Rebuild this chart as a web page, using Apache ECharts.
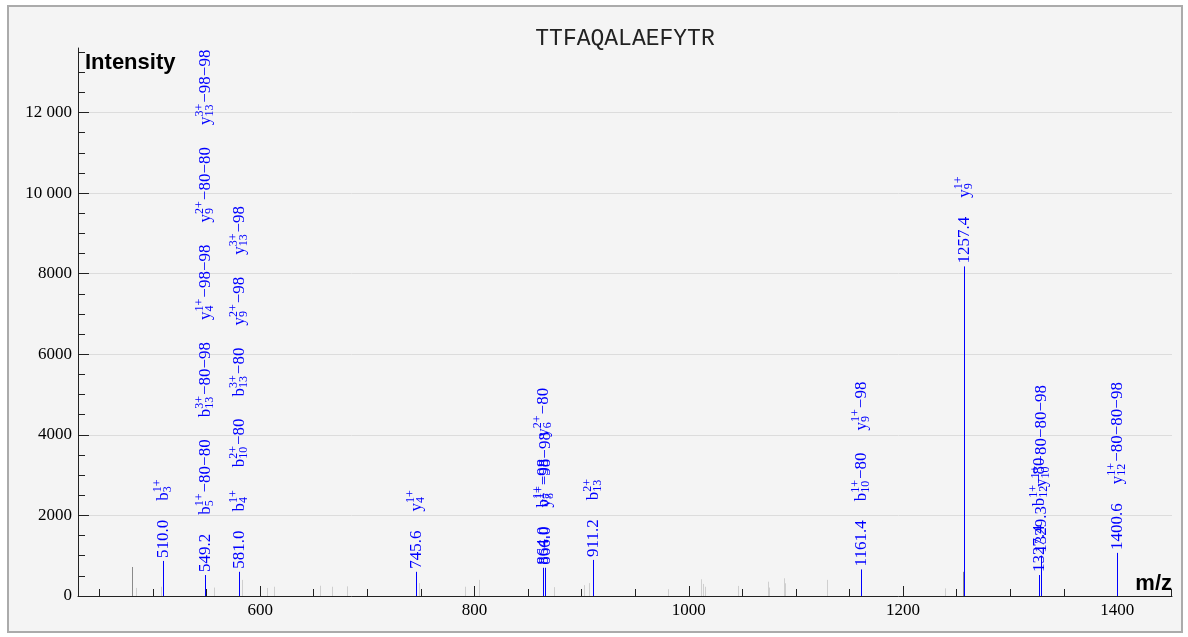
<!DOCTYPE html>
<html><head><meta charset="utf-8">
<script src="https://cdn.jsdelivr.net/npm/echarts@6.0.0/dist/echarts.min.js"></script>
<style>
html,body{margin:0;padding:0;background:#ffffff;}
#frame{position:absolute;left:7px;top:5px;width:1172px;height:624px;border:2px solid #ababab;background:#f4f4f4;}
#chart{width:1172px;height:624px;}
</style></head><body>
<div id="frame"><div id="chart"></div></div>
<script>
// ---------------- data ----------------
const TITLE = 'TTFAQALAEFYTR';
const X_NAME = 'm/z';
const Y_NAME = 'Intensity';

const X_MIN = 430, X_MAX = 1451;
const Y_MIN = 0, Y_MAX = 13600;
const X_MINOR_TICKS = [450, 500, 550, 600, 650, 700, 750, 800, 850, 900, 950, 1000, 1050, 1100, 1150, 1200, 1250, 1300, 1350, 1400, 1450];
const X_MAJOR_TICKS = [600, 800, 1000, 1200, 1400];
const Y_MINOR_TICKS = [0, 500, 1000, 1500, 2000, 2500, 3000, 3500, 4000, 4500, 5000, 5500, 6000, 6500, 7000, 7500, 8000, 8500, 9000, 9500, 10000, 10500, 11000, 11500, 12000, 12500, 13000, 13500];
const Y_MAJOR_TICKS = [0, 2000, 4000, 6000, 8000, 10000, 12000];

// annotated (blue) peaks
const ANNOT_MZ  = [510.0, 549.2, 581.0, 745.6, 864.0, 866.0, 911.2, 1161.4, 1257.4, 1327.4, 1329.3, 1400.6];
const ANNOT_INT = [870,   520,   600,   600,   700,   700,   895,   660,    8180,   520,    1000,   1070];
// ion | subscript | charge | neutral losses
const ANNOT_IONS = [
  ['b|3|1+|'],
  ['b|5|1+|−80−80', 'b|13|3+|−80−98', 'y|4|1+|−98−98', 'y|9|2+|−80−80', 'y|13|3+|−98−98'],
  ['b|4|1+|', 'b|10|2+|−80', 'b|13|3+|−80', 'y|9|2+|−98', 'y|13|3+|−98'],
  ['y|4|1+|'],
  ['b|7|1+|−98', 'y|6|2+|−80'],
  ['y|8|1+|−98−98'],
  ['b|13|2+|'],
  ['b|10|1+|−80', 'y|9|1+|−98'],
  ['y|9|1+|'],
  ['b|12|1+|−80'],
  ['y|10|1+|−80−80−98'],
  ['y|12|1+|−80−80−98']
];

// unannotated peaks
const DARK_MZ  = [481.2, 1256.3];
const DARK_INT = [720, 600];
const LIGHT_MZ  = [485, 508, 557, 583.5, 606.8, 613.4, 656, 667.5, 681.5, 749, 792, 804.6, 874.6, 903, 907, 981, 1012, 1014, 1016, 1046, 1074, 1075.3, 1089.3, 1090.3, 1129.8, 1240];
const LIGHT_INT = [200, 230, 210, 400, 200, 230, 255, 230, 240, 320, 230, 400, 220, 270, 320, 170, 415, 300, 230, 250, 355, 210, 440, 315, 400, 190];

// ---------------- styles ----------------
const BLUE = '#0000ff';
const MAIN_FONT = "17px 'Liberation Serif'";
const SMALL_FONT = "12px 'Liberation Serif'";
const VALUE_GAP = 19;
const LABEL_GAP = 22;

const measureCtx = document.createElement('canvas').getContext('2d');
function tw(text, font) { measureCtx.font = font; return measureCtx.measureText(text).width; }
function crisp(v) { return Math.round(v - 0.5) + 0.5; }

function renderStick(color) {
  return function (params, api) {
    const top = api.coord([api.value(0), api.value(1)]);
    const base = api.coord([api.value(0), 0]);
    const x = crisp(top[0]);
    return { type: 'line', shape: { x1: x, y1: base[1], x2: x, y2: top[1] },
      style: { stroke: color, fill: null, lineWidth: 1 } };
  };
}

function txt(x, y, text, font) {
  return { type: 'text', x: x, y: y, style: { text: text, font: font, fill: BLUE, align: 'left', verticalAlign: 'middle' } };
}

function renderLabels(params, api) {
  const idx = api.value(2);
  const top = api.coord([api.value(0), api.value(1)]);
  const x = crisp(top[0]);
  const texts = [];
  let cur = 3;
  const valueText = ANNOT_MZ[idx].toFixed(1);
  texts.push(txt(cur, 0, valueText, MAIN_FONT));
  cur += tw(valueText, MAIN_FONT) + VALUE_GAP;
  ANNOT_IONS[idx].forEach(function (s) {
    const p = s.split('|');
    const ion = p[0], sub = p[1], sup = p[2], rest = p[3];
    texts.push(txt(cur, 0, ion, MAIN_FONT));
    cur += tw(ion, MAIN_FONT);
    texts.push(txt(cur, -5.5, sup, SMALL_FONT));
    texts.push(txt(cur, 4.5, sub, SMALL_FONT));
    cur += Math.max(tw(sup, SMALL_FONT), tw(sub, SMALL_FONT)) + 1;
    if (rest) {
      texts.push(txt(cur, 0, rest, MAIN_FONT));
      cur += tw(rest, MAIN_FONT);
    }
    cur += LABEL_GAP;
  });
  return { type: 'group', x: x, y: top[1], rotation: Math.PI / 2, children: texts };
}

function yFmt(v) {
  const s = String(v);
  return v >= 10000 ? s.slice(0, s.length - 3) + ' ' + s.slice(s.length - 3) : s;
}

const chart = echarts.init(document.getElementById('chart'), null, { renderer: 'canvas' });
const axisColor = '#222';
const tickLabelStyle = { fontFamily: 'Liberation Serif', fontSize: 17, color: '#000' };
const nameStyle = { fontFamily: 'Liberation Sans', fontWeight: 'bold', fontSize: 22, color: '#000' };

chart.setOption({
  animation: false,
  backgroundColor: 'transparent',
  graphic: [{
    type: 'text', x: 616, y: 20,
    style: { text: TITLE, font: "23px 'Liberation Mono'", fill: '#222', align: 'center', verticalAlign: 'top' }
  }],
  grid: { left: 69, top: 41, right: 9, bottom: 35, containLabel: false },
  xAxis: [{
    type: 'value', min: X_MIN, max: X_MAX, position: 'bottom',
    axisLine: { show: true, onZero: false, lineStyle: { color: axisColor, width: 1 } },
    axisTick: { show: true, inside: true, length: 7, customValues: X_MINOR_TICKS, lineStyle: { color: axisColor } },
    axisLabel: { show: false }, splitLine: { show: false },
    name: X_NAME, nameLocation: 'end', nameGap: 0,
    nameTextStyle: Object.assign({ align: 'right', verticalAlign: 'bottom', padding: [0, 0, 1, 0] }, nameStyle)
  }, {
    type: 'value', min: X_MIN, max: X_MAX, position: 'bottom', offset: 0,
    axisLine: { show: false },
    axisTick: { show: true, inside: true, length: 10, customValues: X_MAJOR_TICKS, lineStyle: { color: axisColor } },
    axisLabel: Object.assign({ show: true, customValues: X_MAJOR_TICKS, margin: 6, formatter: function (v) { return String(v); } }, tickLabelStyle),
    splitLine: { show: false }
  }],
  yAxis: [{
    type: 'value', min: Y_MIN, max: Y_MAX, position: 'left',
    axisLine: { show: true, onZero: false, lineStyle: { color: axisColor, width: 1 } },
    axisTick: { show: true, inside: true, length: 7, customValues: Y_MINOR_TICKS, lineStyle: { color: axisColor } },
    axisLabel: { show: false }, splitLine: { show: false },
    name: Y_NAME, nameLocation: 'end', nameGap: -4,
    nameTextStyle: Object.assign({ align: 'left', verticalAlign: 'top', padding: [0, 0, 0, 7] }, nameStyle)
  }, {
    type: 'value', min: Y_MIN, max: Y_MAX, position: 'left', offset: 0,
    axisLine: { show: false },
    axisTick: { show: true, inside: true, length: 11, customValues: Y_MAJOR_TICKS, lineStyle: { color: axisColor } },
    axisLabel: Object.assign({ show: true, customValues: Y_MAJOR_TICKS, margin: 6, formatter: yFmt }, tickLabelStyle),
    splitLine: { show: true, lineStyle: { color: '#dcdcdc', width: 1 } }
  }],
  series: [{
    type: 'custom', name: 'light', xAxisIndex: 0, yAxisIndex: 0, clip: true, z: 2,
    renderItem: renderStick('#cfcfcf'),
    data: LIGHT_MZ.map(function (m, i) { return [m, LIGHT_INT[i]]; })
  }, {
    type: 'custom', name: 'dark', xAxisIndex: 0, yAxisIndex: 0, clip: true, z: 3,
    renderItem: renderStick('#8a8a8a'),
    data: DARK_MZ.map(function (m, i) { return [m, DARK_INT[i]]; })
  }, {
    type: 'custom', name: 'annotatedSticks', xAxisIndex: 0, yAxisIndex: 0, clip: true, z: 10,
    renderItem: renderStick(BLUE),
    data: ANNOT_MZ.map(function (m, i) { return [m, ANNOT_INT[i]]; })
  }, {
    type: 'custom', name: 'annotatedLabels', xAxisIndex: 0, yAxisIndex: 0, clip: true, z: 11,
    renderItem: renderLabels,
    data: ANNOT_MZ.map(function (m, i) { return [m, ANNOT_INT[i], i]; })
  }]
});
</script>
</body></html>
